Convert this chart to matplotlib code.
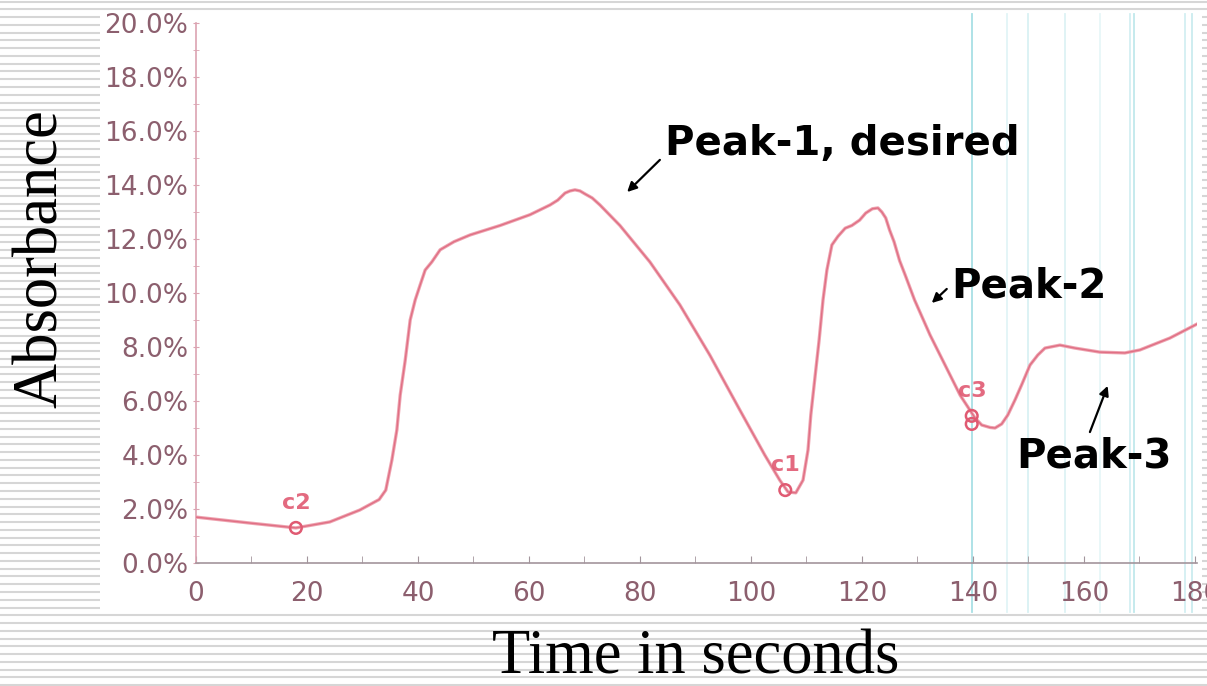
import matplotlib
matplotlib.use("Agg")
import matplotlib.pyplot as plt
from matplotlib.patches import Rectangle
from matplotlib.ticker import MultipleLocator, FuncFormatter

# ---------------- data ----------------
time_s = [0.0, 9.7, 18.0, 24.1, 29.5, 33.0, 34.2, 35.3, 36.2, 36.8, 37.7, 38.6,
          39.5, 40.4, 41.3, 42.5, 44.0, 46.5, 49.4, 54.8, 60.2, 63.8, 65.2, 66.5,
          67.4, 68.3, 69.2, 70.1, 71.4, 72.8, 76.4, 81.8, 87.2, 92.6, 98.0, 102.5,
          105.2, 106.7, 108.1, 109.4, 110.3, 110.8, 111.5, 112.3, 113.0, 113.7,
          114.6, 115.7, 117.0, 118.2, 119.6, 120.7, 121.9, 122.9, 123.6, 124.3,
          125.0, 125.8, 126.8, 127.8, 129.5, 132.3, 135.0, 137.7, 140.4, 141.6,
          143.1, 144.0, 145.2, 146.3, 147.6, 148.8, 150.3, 151.7, 153.0, 155.7,
          158.4, 162.9, 167.4, 170.1, 175.5, 180.4]
absorbance = [1.70, 1.48, 1.30, 1.52, 1.96, 2.35, 2.70, 3.81, 4.93, 6.22, 7.50,
              9.00, 9.74, 10.30, 10.85, 11.15, 11.60, 11.90, 12.15, 12.50, 12.90,
              13.26, 13.44, 13.70, 13.78, 13.82, 13.78, 13.67, 13.52, 13.26, 12.50,
              11.15, 9.56, 7.70, 5.67, 4.00, 3.07, 2.63, 2.60, 3.07, 4.19, 5.48,
              6.78, 8.26, 9.74, 10.85, 11.78, 12.10, 12.40, 12.50, 12.70, 12.96,
              13.12, 13.15, 13.00, 12.78, 12.33, 11.90, 11.20, 10.67, 9.74, 8.44,
              7.33, 6.22, 5.37, 5.11, 5.02, 5.00, 5.15, 5.48, 6.04, 6.60, 7.33,
              7.70, 7.96, 8.07, 7.96, 7.81, 7.78, 7.89, 8.33, 8.85]

cursor_labels = ["c2", "c1", "c3"]
cursor_label_x = [18.0, 106.2, 139.9]
cursor_label_y = [1.85, 3.25, 6.0]
cursor_x = [18.0, 106.2, 139.8, 139.8]
cursor_y = [1.30, 2.70, 5.45, 5.15]

cyan_lines = [139.8, 146.1, 149.9, 156.6, 162.9, 168.3, 169.0, 178.2, 179.5]
cyan_alpha = [0.9, 0.3, 0.4, 0.35, 0.25, 0.45, 0.65, 0.45, 0.55]

x_ticks = [0, 20, 40, 60, 80, 100, 120, 140, 160, 180]
peak_labels = ["Peak-1, desired", "Peak-2", "Peak-3"]

# ---------------- figure ----------------
W, H = 1207, 686
fig = plt.figure(figsize=(W / 100, H / 100), dpi=100)
fig.patch.set_facecolor("white")

# striped background (slide style)
bg = fig.add_axes([0, 0, 1, 1])
bg.set_xlim(0, W)
bg.set_ylim(H, 0)
bg.axis("off")
y = 1.5
while y < H:
    bg.axhline(y, color="#d6d6d6", lw=1.5, zorder=1)
    y += 7.77
bg.add_patch(Rectangle((100, 14), 1102, 598, facecolor="white", edgecolor="none",
                       zorder=5))

# main axes
x0, x1 = 196, 1197
ytop, ybot = 23, 563
ax = fig.add_axes([x0 / W, 1 - ybot / H, (x1 - x0) / W, (ybot - ytop) / H])
ax.set_facecolor("none")
ax.set_xlim(0, 180.4)
ax.set_ylim(0, 20)

for xv, a in zip(cyan_lines, cyan_alpha):
    ax.axvline(xv, ymin=-0.09, ymax=1.017, color="#9fdce2", lw=1.3, alpha=a,
               clip_on=False, zorder=1)

ax.plot(time_s, absorbance, color="#eea3b0", lw=2.4, zorder=3,
        solid_joinstyle="round")
ax.plot(time_s, absorbance, color="#e06f84", lw=1.0, zorder=3,
        solid_joinstyle="round")

ax.scatter(cursor_x, cursor_y, s=70, facecolors="none", edgecolors="#e05a72",
           linewidths=1.8, zorder=4)
for lab, cx, cy in zip(cursor_labels, cursor_label_x, cursor_label_y):
    ax.text(cx, cy, lab, color="#e05a72", fontsize=16, ha="center",
            va="bottom", fontfamily="DejaVu Sans", fontweight="bold", alpha=0.9)

# axes styling
for s in ["top", "right"]:
    ax.spines[s].set_visible(False)
ax.spines["left"].set_color("#dba3b1")
ax.spines["bottom"].set_color("#a3959c")
ax.spines["left"].set_linewidth(1.2)
ax.spines["bottom"].set_linewidth(1.2)

ax.set_xticks(x_ticks)
ax.xaxis.set_minor_locator(MultipleLocator(10))
ax.yaxis.set_major_locator(MultipleLocator(2))
ax.yaxis.set_minor_locator(MultipleLocator(1))
ax.yaxis.set_major_formatter(FuncFormatter(lambda v, p: f"{v:.1f}%"))

lab_col = "#8c5f6e"
ax.tick_params(axis="x", which="both", direction="in", length=5, color="#a3959c",
               labelsize=19, labelcolor=lab_col, pad=13)
ax.tick_params(axis="y", which="both", direction="inout", length=5, color="#dba3b1",
               labelsize=19, labelcolor=lab_col, pad=3)
for t in ax.get_xticklabels() + ax.get_yticklabels():
    t.set_fontfamily("DejaVu Sans")

# annotations
ann_kw = dict(fontsize=29, fontweight="bold", fontfamily="DejaVu Sans",
              color="black", va="baseline", ha="left")
arrow = dict(arrowstyle="-|>", color="black", lw=1.6, mutation_scale=14,
             shrinkA=0, shrinkB=0)
ax.text(84.5, 15.11, peak_labels[0], **ann_kw)
ax.annotate("", xy=(77.7, 13.74), xytext=(83.6, 14.93), arrowprops=arrow)
ax.text(136.2, 9.85, peak_labels[1], **ann_kw)
ax.annotate("", xy=(132.6, 9.63), xytext=(135.3, 10.15), arrowprops=arrow)
ax.text(147.9, 3.52, peak_labels[2], **ann_kw)
ax.annotate("", xy=(164.3, 6.56), xytext=(161.1, 4.85), arrowprops=arrow)

# axis titles
fig.text(42 / W, 1 - 259 / H, "Absorbance", rotation=90, ha="center", va="center",
         fontsize=45, fontfamily="Liberation Serif", color="black")
fig.text(696 / W, 1 - 674 / H, "Time in seconds", ha="center", va="baseline",
         fontsize=45, fontfamily="Liberation Serif", color="black")

fig.savefig("out.png", dpi=100)
